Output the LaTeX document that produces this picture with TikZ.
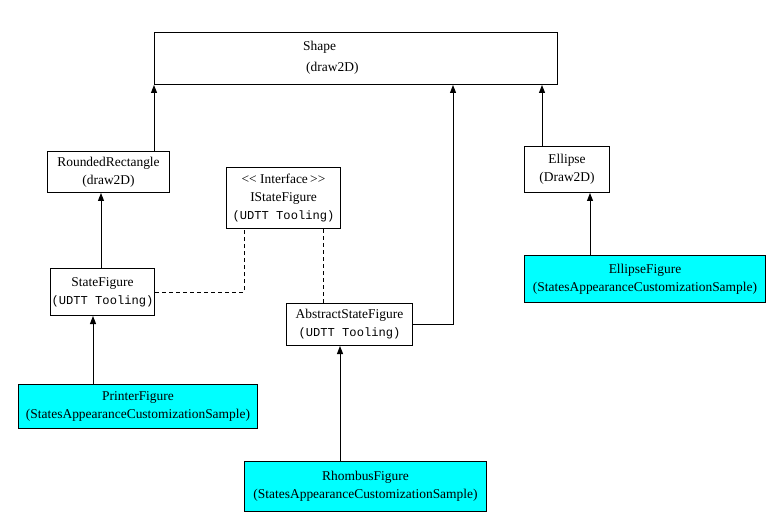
\documentclass[tikz,border=0pt]{standalone}
\usepackage{fontspec}
\setmainfont{Liberation Serif}
\newfontfamily\monof{Liberation Mono}
\usetikzlibrary{arrows.meta,calc}
\definecolor{aqua}{RGB}{0,255,255}
\newcommand\serfont{\fontsize{13.45}{18}\selectfont}
\newcommand\mono[1]{{\monof\fontsize{12.1}{18}\selectfont #1}}
\tikzset{
  box/.style={draw, line width=1pt, inner sep=0pt, anchor=north west, align=center, font=\serfont, fill=white},
  cbox/.style={box, fill=aqua},
  inh/.style={line width=1pt, -{Triangle[width=6pt,length=8pt]}},
  real/.style={line width=1pt, dash pattern=on 4pt off 3pt},
}
\begin{document}
\begin{tikzpicture}[x=1pt,y=-1pt]
\useasboundingbox (0,0) rectangle (770,521);
\node[box, minimum width=403pt, minimum height=52pt] (shape) at (154,32) {};
\node[font=\serfont, anchor=west, align=left, inner sep=0pt] (shapetxt) at (303,58) {Shape\\[3pt]\hspace{3pt}(draw2D)};
\node[box, minimum width=122pt, minimum height=41pt] (rr) at (47,151) {RoundedRectangle\\(draw2D)};
\node[box, minimum width=114pt, minimum height=61pt] (isf) at (226,167) {\mbox{<}\mbox{<} Interface\,\mbox{>}\mbox{>}\\IStateFigure\\\mono{(UDTT Tooling)}};
\node[box, minimum width=104pt, minimum height=47pt] (sf) at (50,268) {StateFigure\\\mono{(UDTT Tooling)}};
\node[box, minimum width=126pt, minimum height=42pt] (asf) at (286,303) {AbstractStateFigure\\\mono{(UDTT Tooling)}\hspace{14pt}};
\node[box, minimum width=85pt, minimum height=46pt] (ell) at (524,146) {Ellipse\hspace{8pt}\\(Draw2D)};
\node[cbox, minimum width=241pt, minimum height=47pt] (ef) at (524,255) {EllipseFigure\hspace{30pt}\\(StatesAppearanceCustomizationSample)};
\node[cbox, minimum width=239pt, minimum height=44pt] (pf) at (18,384) {PrinterFigure\\(StatesAppearanceCustomizationSample)};
\node[cbox, minimum width=242pt, minimum height=50pt] (rf) at (244,461) {RhombusFigure\hspace{12pt}\\(StatesAppearanceCustomizationSample)};
% inheritance
\draw[inh] (rr.north -| shape.south west) -- (shape.south west);
\draw[inh] (asf.east) -| ($(shape.south west)+(299,0)$);
\draw[inh] ($(ell.north west)+(18,0)$) -- ($(shape.south west)+(388,0)$);
\draw[inh] ($(ef.north west)+(66,0)$) -- ($(ell.south west)+(66,0)$);
\draw[inh] ($(sf.north west)+(51,0)$) -- ($(rr.south west)+(54,0)$);
\draw[inh] ($(pf.north west)+(75,0)$) -- ($(sf.south west)+(43,0)$);
\draw[inh] ($(rf.north west)+(96,0)$) -- ($(asf.south west)+(54,0)$);
% realization
\draw[real] (sf.east) -| ($(isf.south west)+(18,0)$);
\draw[real] ($(isf.south west)+(97,0)$) -- ($(asf.north west)+(37,0)$);
\end{tikzpicture}
\end{document}
